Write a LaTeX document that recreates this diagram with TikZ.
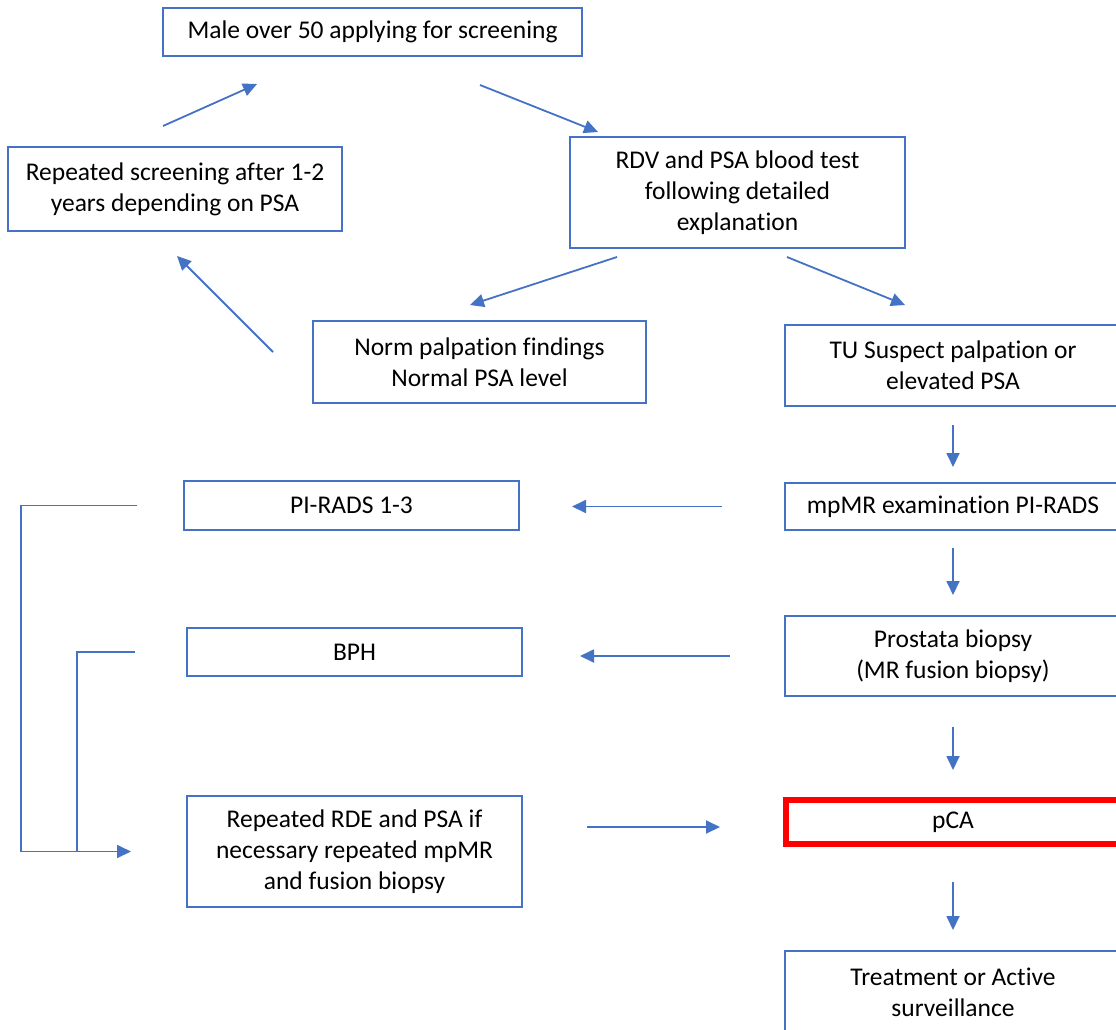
\documentclass[tikz,border=0pt]{standalone}
\usepackage{fontspec}
\setmainfont[Ligatures=NoCommon]{Carlito}
\usetikzlibrary{arrows.meta}
\definecolor{boxblue}{HTML}{4472C4}
\definecolor{alertred}{HTML}{FF0000}

\begin{document}
\begin{tikzpicture}[x=1pt, y=-1pt,
    box/.style={draw=boxblue, line width=1.4pt, outer sep=0pt, inner sep=0pt, align=center,
      text=black, font=\fontsize{25.5}{31}\selectfont},
    arr/.style={draw=boxblue, line width=1.8pt, -{Triangle[length=14pt,width=13pt]}},
    link/.style={draw=boxblue, line width=1.8pt}]
    \useasboundingbox (0,0) rectangle (1116,1030);
    \clip (0,0) rectangle (1116,1030);

    % Screening loop
    \node[box, minimum width=419pt, minimum height=48pt] (male) at (372.5,32) {Male over 50 applying for screening};
    \node[box, minimum width=334pt, minimum height=84pt] (rescreen) at (175,189) {Repeated screening after 1-2\\years depending on PSA};
    \node[box, minimum width=335pt, minimum height=111pt] (rdv) at (737.5,192.5) {RDV and PSA blood test\\following detailed\\explanation};
    \node[box, minimum width=333pt, minimum height=82pt] (norm) at (479.5,362) {Norm palpation findings\\Normal PSA level};
    \node[box, minimum width=336pt, minimum height=81pt] (tu) at (953,365.5) {TU Suspect palpation or\\elevated PSA};

    % Right column
    \node[box, minimum width=336pt, minimum height=47pt] (mpmr) at (953,506.5) {mpMR examination PI-RADS};
    \node[box, minimum width=336pt, minimum height=80pt] (biopsy) at (953,656) {Prostata biopsy\\(MR fusion biopsy)};
    \node[box, draw=alertred, line width=6pt, minimum width=334pt, minimum height=44pt] (pca) at (953,822) {pCA};
    \node[box, minimum width=336pt, minimum height=82pt] (treat) at (953,992) {Treatment or Active\\surveillance};

    % Left column
    \node[box, minimum width=335pt, minimum height=49pt] (pirads) at (351.5,505.5) {PI-RADS 1-3};
    \node[box, minimum width=335pt, minimum height=48pt] (bph) at (354.5,652) {BPH};
    \node[box, minimum width=335pt, minimum height=111pt] (rde) at (354.5,851.5) {Repeated RDE and PSA if\\necessary repeated mpMR\\and fusion biopsy};

    % Free arrow ends
    \coordinate (rs1) at (163,126);  \coordinate (rs2) at (257,84);
    \coordinate (ml1) at (480,85);   \coordinate (ml2) at (598,132);
    \coordinate (rd1) at (617,257);  \coordinate (rd2) at (470,305);
    \coordinate (rd3) at (787,257);  \coordinate (rd4) at (905,305);
    \coordinate (nm1) at (273,352);  \coordinate (nm2) at (177,256);

    % Connections
    \draw[arr] (rs1) -- (rs2);
    \draw[arr] (ml1) -- (ml2);
    \draw[arr] (rd1) -- (rd2);
    \draw[arr] (rd3) -- (rd4);
    \draw[arr] (nm1) -- (nm2);

    \draw[arr, shorten <=19pt, shorten >=16pt] (tu) -- (mpmr);
    \draw[arr, shorten <=18pt, shorten >=21pt] (mpmr) -- (biopsy);
    \draw[arr, shorten <=31pt, shorten >=30pt] (biopsy) -- (pca);
    \draw[arr, shorten <=38pt, shorten >=21pt] (pca) -- (treat);

    \draw[arr, shorten <=63pt, shorten >=53pt] (mpmr.west) -- (pirads.east |- mpmr.west);
    \draw[arr, shorten <=55pt, shorten >=58pt] (biopsy.west) -- (bph.east |- biopsy.west);
    \draw[arr, shorten <=65pt, shorten >=66pt] ([yshift=-5pt]rde.east |- pca.west) -- ([yshift=-5pt]pca.west);

    \draw[arr, shorten <=47pt, shorten >=56pt] (pirads.west) -- ++(-163,0) |- (rde.west);
    \draw[link, shorten <=52pt] (bph.west) -| ([xshift=-110pt]rde.west);

\end{tikzpicture}
\end{document}
